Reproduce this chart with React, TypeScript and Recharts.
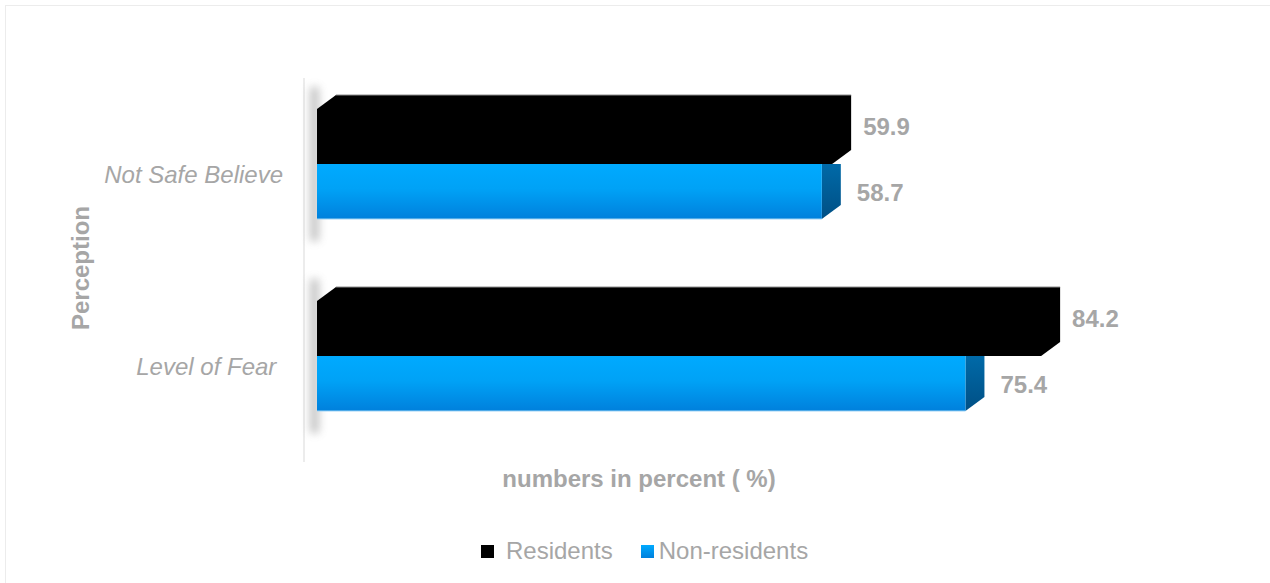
import React from 'react';
import { BarChart, Bar, XAxis, YAxis, LabelList } from 'recharts';

// perception survey, numbers in percent
const categories = ['Not Safe Believe', 'Level of Fear '];
const residents = [59.9, 84.2];
const nonResidents = [58.7, 75.4];
const seriesNames = ['Residents', 'Non-residents'];

const data = categories.map((name, i) => ({
  name,
  residents: residents[i],
  nonResidents: nonResidents[i],
}));

// fake 3D depth of the bars
const DX = 19;
const DY = 14;
const GREY = '#a6a6a6';
const FONT = '"Liberation Sans", Arial, Helvetica, sans-serif';

function ResidentsBar(props: any) {
  const { x, y, width, height } = props;
  const body =
    `M${x},${y} L${x + DX},${y - DY} L${x + width + DX},${y - DY} ` +
    `L${x + width + DX},${y + height - DY} L${x + width},${y + height} L${x},${y + height} Z`;
  return (
    <g>
      <rect
        x={x - 7}
        y={y - DY - 8}
        width={9}
        height={height * 2 + DY + 30}
        fill="#6f6f6f"
        opacity={0.4}
        filter="url(#wallShadow)"
      />
      <path d={body} fill="#000" />
      <line x1={x + DX} y1={y - DY} x2={x + width + DX} y2={y - DY} stroke="#8c8c8c" strokeWidth={1} />
    </g>
  );
}

function NonResidentsBar(props: any) {
  const { x, y, width, height } = props;
  // side face, the part above y sits behind the residents bar
  const side =
    `M${x + width},${y} L${x + width + DX},${y} L${x + width + DX},${y + height - DY} ` +
    `L${x + width},${y + height} Z`;
  return (
    <g>
      <path d={side} fill="url(#blueSide)" />
      <rect x={x} y={y} width={width} height={height} fill="url(#blueFront)" />
      <line x1={x} y1={y + height} x2={x + width} y2={y + height} stroke="#9fd4f5" strokeWidth={1} />
    </g>
  );
}

function valueLabel(dx: number, dy: number) {
  return (props: any) => {
    const { x, y, width, height, value } = props;
    return (
      <text
        x={x + width + DX + dx}
        y={y + height / 2 + dy}
        fill={GREY}
        fontFamily={FONT}
        fontSize={24}
        fontWeight="bold"
        dominantBaseline="central"
      >
        {Number(value).toFixed(1)}
      </text>
    );
  };
}

function CategoryTick(props: any) {
  const { x, y, payload } = props;
  return (
    <text
      x={x}
      y={y + 10}
      textAnchor="end"
      dominantBaseline="central"
      fill={GREY}
      fontFamily={FONT}
      fontSize={24}
      fontStyle="italic"
      style={{ whiteSpace: 'pre' }}
    >
      {payload.value}
    </text>
  );
}

function XTitle(props: any) {
  const { viewBox } = props;
  return (
    <text
      x={viewBox.x + viewBox.width / 2 - 108}
      y={viewBox.y + 26}
      textAnchor="middle"
      dominantBaseline="central"
      fill={GREY}
      fontFamily={FONT}
      fontSize={24}
      fontWeight="bold"
    >
      numbers in percent ( %)
    </text>
  );
}

function YTitle(props: any) {
  const { viewBox } = props;
  const cx = 80;
  const cy = viewBox.y + viewBox.height / 2 + 8;
  return (
    <text
      x={cx}
      y={cy}
      transform={`rotate(-90 ${cx} ${cy})`}
      textAnchor="middle"
      dominantBaseline="central"
      fill={GREY}
      fontFamily={FONT}
      fontSize={24}
      fontWeight="bold"
    >
      Perception
    </text>
  );
}

const legendSwatches = ['#000', 'linear-gradient(#00aaff, #0080dc)'];

export default function App() {
  return (
    <div style={{ position: 'fixed', left: 0, top: 0, width: 1270, height: 583, background: '#fff' }}>
      <div
        style={{
          position: 'absolute',
          left: 5,
          top: 5,
          width: 1300,
          height: 620,
          border: '1px solid #ececec',
        }}
      />
      <div style={{ position: 'absolute', left: 303, top: 78, width: 2, height: 384, background: '#ececec' }} />
      <div style={{ position: 'absolute', left: 0, top: 0 }}>
        <BarChart
          width={1270}
          height={583}
          data={data}
          layout="vertical"
          margin={{ top: 68, right: 93, bottom: 91, left: 0 }}
          barGap={0}
          barSize={55}
        >
          <defs>
            <linearGradient id="blueFront" x1="0" y1="0" x2="0" y2="1">
              <stop offset="0%" stopColor="#00aaff" />
              <stop offset="45%" stopColor="#00a2f6" />
              <stop offset="100%" stopColor="#0080dc" />
            </linearGradient>
            <linearGradient id="blueSide" x1="0" y1="0" x2="0" y2="1">
              <stop offset="0%" stopColor="#006aa8" />
              <stop offset="100%" stopColor="#004f85" />
            </linearGradient>
            <filter id="wallShadow" x="-200%" y="-20%" width="500%" height="140%">
              <feGaussianBlur stdDeviation="4" />
            </filter>
          </defs>
          <XAxis
            type="number"
            domain={[0, 100]}
            tick={false}
            axisLine={false}
            tickLine={false}
            height={40}
            label={<XTitle />}
          />
          <YAxis
            type="category"
            dataKey="name"
            width={317}
            axisLine={false}
            tickLine={false}
            tickSize={0}
            tickMargin={34}
            tick={<CategoryTick />}
            label={<YTitle />}
          />
          <Bar dataKey="residents" name={seriesNames[0]} shape={<ResidentsBar />} isAnimationActive={false}>
            <LabelList dataKey="residents" content={valueLabel(12, -10)} />
          </Bar>
          <Bar dataKey="nonResidents" name={seriesNames[1]} shape={<NonResidentsBar />} isAnimationActive={false}>
            <LabelList dataKey="nonResidents" content={valueLabel(16, 1)} />
          </Bar>
        </BarChart>
      </div>
      <div
        style={{
          position: 'absolute',
          left: 481,
          top: 537,
          display: 'flex',
          alignItems: 'center',
          fontFamily: FONT,
          fontSize: 24,
          color: GREY,
          whiteSpace: 'pre',
        }}
      >
        {seriesNames.map((s, i) => (
          <div key={s} style={{ display: 'flex', alignItems: 'center', marginRight: i === 0 ? 28 : 0 }}>
            <span style={{ width: 13, height: 13, background: legendSwatches[i], display: 'inline-block' }} />
            <span style={{ marginLeft: i === 0 ? 12 : 5 }}>{s}</span>
          </div>
        ))}
      </div>
    </div>
  );
}
